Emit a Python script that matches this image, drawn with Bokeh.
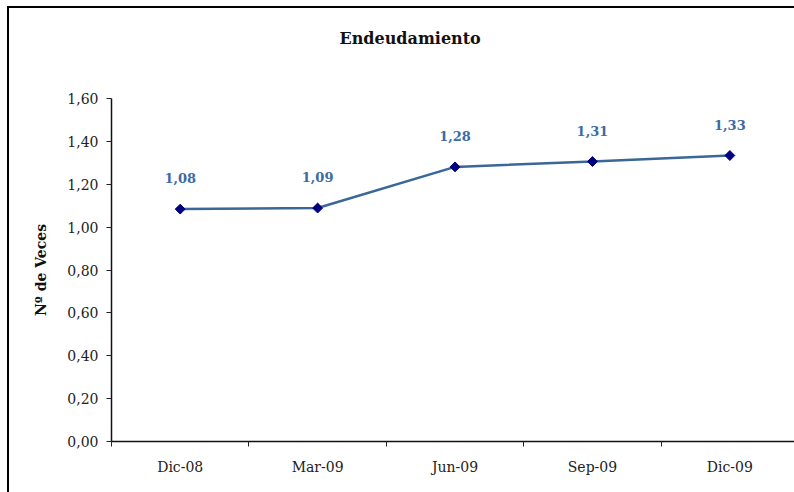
import math
from bokeh.plotting import figure
from bokeh.models import Range1d, FixedTicker, ColumnDataSource, Title
from bokeh.core.properties import value
from bokeh.embed import file_html
from bokeh.resources import INLINE

categories = ["Dic-08", "Mar-09", "Jun-09", "Sep-09", "Dic-09"]
endeudamiento = [1.084, 1.089, 1.281, 1.306, 1.334]
y_ticks = [0.0, 0.2, 0.4, 0.6, 0.8, 1.0, 1.2, 1.4, 1.6]
y_tick_labels = ["0,00", "0,20", "0,40", "0,60", "0,80", "1,00", "1,20", "1,40", "1,60"]
title_text = "Endeudamiento"
y_title = "Nº de Veces"

FONT = "DejaVu Serif"
LINE_COLOR = "#3a6698"
MARK_COLOR = "#000080"
LABEL_COLOR = "#3b6ba5"

xs = list(range(len(categories)))
labels = [f"{v:.2f}".replace(".", ",") for v in endeudamiento]
src = ColumnDataSource(dict(x=xs, y=endeudamiento, lab=labels))

p = figure(width=787, height=486, output_backend="svg", toolbar_location=None,
           x_range=Range1d(-0.5, 4.485), y_range=Range1d(0, 1.6),
           min_border_left=102, min_border_right=0, min_border_top=90, min_border_bottom=53)
p.styles = {"margin-left": "7px", "margin-top": "6px",
            "border-left": "2px solid black", "border-top": "2px solid black",
            "box-sizing": "border-box"}
p.outline_line_color = None
p.xgrid.visible = False
p.ygrid.visible = False
p.background_fill_color = "white"
p.border_fill_color = "white"

# x axis
p.xaxis.ticker = FixedTicker(ticks=xs, minor_ticks=[-0.5, 0.5, 1.5, 2.5, 3.5, 4.5])
p.xaxis.major_label_overrides = {i: c for i, c in enumerate(categories)}
p.xaxis.major_tick_line_color = None
p.xaxis.minor_tick_line_color = "#222222"
p.xaxis.minor_tick_out = 5
p.xaxis.minor_tick_in = 0
p.xaxis.axis_line_color = "#111111"
p.xaxis.axis_line_width = 1.5
p.xaxis.major_label_text_font = FONT
p.xaxis.major_label_text_font_size = "14px"
p.xaxis.major_label_text_color = "#222222"
p.xaxis.major_label_standoff = 11

# y axis
p.yaxis.ticker = FixedTicker(ticks=y_ticks, minor_ticks=[])
p.yaxis.major_label_overrides = {t: l for t, l in zip(y_ticks, y_tick_labels)}
p.yaxis.major_tick_out = 5
p.yaxis.major_tick_in = 0
p.yaxis.major_tick_line_color = "#222222"
p.yaxis.axis_line_color = "#111111"
p.yaxis.axis_line_width = 1.5
p.yaxis.major_label_text_font = FONT
p.yaxis.major_label_text_font_size = "14px"
p.yaxis.major_label_text_color = "#222222"
p.yaxis.major_label_standoff = 8
p.yaxis.axis_label = y_title
p.yaxis.axis_label_text_font = FONT
p.yaxis.axis_label_text_font_size = "14px"
p.yaxis.axis_label_text_font_style = "bold"
p.yaxis.axis_label_text_color = "#111111"
p.yaxis.axis_label_standoff = 15

p.line("x", "y", source=src, line_color=LINE_COLOR, line_width=2.5)
p.scatter("x", "y", source=src, marker="square", angle=math.pi / 4, size=7,
          fill_color=MARK_COLOR, line_color=MARK_COLOR)
p.text("x", "y", text="lab", source=src, text_font=value(FONT), text_font_size="13px",
       text_font_style="bold", text_color=LABEL_COLOR, text_align="center",
       text_baseline="middle", y_offset=-31)

# spacer between frame and title (nearest the frame), then the title itself
spacer = Title(text=" ", text_font=FONT, text_font_size="16px", standoff=28)
main_title = Title(text=title_text, text_font=FONT, text_font_size="16px",
                   text_font_style="bold", text_color="#111111", align="left",
                   offset=228, vertical_align="top", standoff=0)
p.above = [spacer, main_title]

open("out.html", "w").write(file_html(p, INLINE))
